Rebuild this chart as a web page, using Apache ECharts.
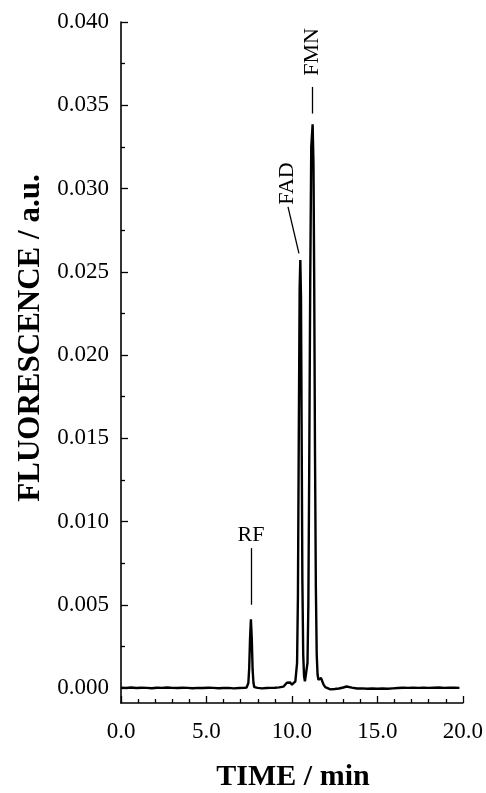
<!DOCTYPE html>
<html>
<head>
<meta charset="utf-8">
<script src="https://cdn.jsdelivr.net/npm/echarts@6/dist/echarts.min.js"></script>
<style>html,body{margin:0;padding:0;background:#fff}#c{width:486px;height:793px}</style>
</head>
<body>
<div id="c"></div>
<script>
// ---- data (time in min, fluorescence in a.u.) ----
const times = [
  0.0,0.3,0.6,0.9,1.2,1.5,1.8,2.1,2.4,2.7,3.0,3.3,3.6,3.9,4.2,4.5,4.8,5.1,5.4,5.7,6.0,6.3,6.6,6.9,7.2,
  7.30,7.35,7.40,7.45,7.50,7.55,7.60,7.65,7.70,7.75,7.80,7.85,7.90,
  8.0,8.25,8.5,8.75,9.0,9.25,9.5,9.6,9.7,9.8,9.9,10.0,10.1,10.2,
  10.30,10.35,10.40,10.45,10.49,10.53,10.57,10.61,10.66,10.71,10.76,10.81,10.86,10.91,10.96,
  11.01,11.07,11.13,11.21,11.26,11.30,11.35,11.40,11.45,11.50,11.55,11.60,11.65,11.70,11.75,11.80,11.85,11.95,
  12.0,12.25,12.5,12.75,13.0,13.2,13.5,13.8,14.1,14.4,14.7,15.0,15.3,15.6,15.9,16.2,16.5,16.8,17.1,17.4,17.7,
  18.0,18.3,18.6,18.9,19.2,19.5,19.8
];
const fluorescence = [
  0.00002,0.00001,0.00003,0.00000,0.00002,0.00001,-0.00001,0.00002,0.00001,0.00003,0.00001,0.00000,0.00002,0.00001,-0.00001,0.00001,0.00000,0.00002,0.00001,-0.00001,0.00000,0.00001,-0.00002,0.00000,0.00001,
  0.00002,0.00003,0.00008,0.00030,0.00120,0.00300,0.00412,0.00300,0.00110,0.00030,0.00005,0.00000,-0.00002,
  0.00001,-0.00002,0.00000,0.00001,0.00002,0.00004,0.00008,0.00015,0.00032,0.00022,0.00033,0.00020,0.00018,0.00040,
  0.00150,0.00550,0.01500,0.02400,0.02570,0.02350,0.01500,0.00650,0.00200,0.00070,0.00040,0.00030,0.00050,0.00150,0.00500,
  0.01300,0.02450,0.03250,0.03385,0.03150,0.02500,0.01400,0.00600,0.00200,0.00080,0.00050,0.00040,0.00045,0.00060,0.00070,0.00060,0.00020,0.00005,-0.00003,
  -0.00008,-0.00006,-0.00003,0.00003,0.00009,0.00002,-0.00003,-0.00002,-0.00004,-0.00003,-0.00004,-0.00003,-0.00004,-0.00002,0.00000,0.00002,0.00001,0.00002,0.00001,0.00002,0.00001,
  0.00002,0.00003,0.00001,0.00002,0.00002,0.00001,0.00002
];
const xTickLabels = [0, 5, 10, 15, 20];
const xMinorTicks = [1, 2, 3, 4, 6, 7, 8, 9, 11, 12, 13, 14, 16, 17, 18, 19];
const yTickLabels = [0, 0.005, 0.010, 0.015, 0.020, 0.025, 0.030, 0.035, 0.040];
const yMinorTicks = [0.0025, 0.0075, 0.0125, 0.0175, 0.0225, 0.0275, 0.0325, 0.0375];
// annotations: peak names, label anchor [time, value], leader line from/to [time, value]
const peakNames = ['RF', 'FAD', 'FMN'];
const peakLabelPos = [[7.6, 0.0092], [9.71, 0.0303], [11.17, 0.0382]];
const peakLabelRotate = [0, 90, 90];
const leaderFrom = [[7.6, 0.0084], [9.77, 0.0289], [11.2, 0.0361]];
const leaderTo = [[7.6, 0.0050], [10.41, 0.0261], [11.2, 0.0345]];

const serif = '"Liberation Serif", "Times New Roman", serif';
const chart = echarts.init(document.getElementById('c'), null, {renderer: 'canvas'});
const axisLineStyle = {color: '#000', width: 1.6};
const tickStyle = {color: '#000', width: 1.3};
const option = {
  animation: false,
  backgroundColor: '#fff',
  grid: {left: 121, top: 22, right: 23, bottom: 90, containLabel: false},
  xAxis: [{
    type: 'value', min: 0, max: 20,
    axisLine: {show: true, onZero: false, lineStyle: axisLineStyle},
    axisTick: {show: true, inside: true, length: 7, customValues: xTickLabels, lineStyle: tickStyle},
    splitLine: {show: false},
    axisLabel: {
      color: '#000', fontFamily: serif, fontSize: 23, margin: 17,
      customValues: xTickLabels,
      formatter: v => v.toFixed(1)
    }
  }, {
    type: 'value', min: 0, max: 20, position: 'bottom',
    axisLine: {show: false, onZero: false},
    axisTick: {show: true, inside: true, length: 4, customValues: xMinorTicks, lineStyle: tickStyle},
    axisLabel: {show: false},
    splitLine: {show: false}
  }],
  yAxis: [{
    type: 'value', min: -0.0009, max: 0.04,
    axisLine: {show: true, onZero: false, lineStyle: axisLineStyle},
    axisTick: {show: true, inside: true, length: 7, customValues: yTickLabels, lineStyle: tickStyle},
    splitLine: {show: false},
    axisLabel: {
      color: '#000', fontFamily: serif, fontSize: 23, margin: 12,
      customValues: yTickLabels,
      formatter: v => v.toFixed(3)
    }
  }, {
    type: 'value', min: -0.0009, max: 0.04, position: 'left',
    axisLine: {show: false, onZero: false},
    axisTick: {show: true, inside: true, length: 4, customValues: yMinorTicks, lineStyle: tickStyle},
    axisLabel: {show: false},
    splitLine: {show: false}
  }],
  graphic: [{
    type: 'text',
    x: 293, y: 777,
    style: {text: 'TIME / min', font: 'bold 30px ' + serif, fill: '#000', align: 'center', verticalAlign: 'middle'}
  }, {
    type: 'text',
    x: 31, y: 338, rotation: Math.PI / 2,
    style: {text: 'FLUORESCENCE / a.u.', font: 'bold 31px ' + serif, fill: '#000', align: 'center', verticalAlign: 'middle'}
  }],
  series: [{
    type: 'line',
    data: times.map((t, i) => [t, fluorescence[i]]),
    showSymbol: false,
    lineStyle: {color: '#000', width: 2.4},
    z: 3,
    markLine: {
      silent: true, symbol: 'none', label: {show: false},
      lineStyle: {color: '#000', width: 1.3, type: 'solid'},
      data: peakNames.map((n, i) => [{coord: leaderFrom[i]}, {coord: leaderTo[i]}])
    }
  }, {
    type: 'scatter',
    symbolSize: 0,
    itemStyle: {opacity: 1, color: '#000'},
    data: peakNames.map((n, i) => ({name: n, value: peakLabelPos[i],
      label: {rotate: peakLabelRotate[i]}})),
    label: {show: true, position: 'inside', formatter: p => p.name, color: '#000', opacity: 1,
      textBorderWidth: 0, fontFamily: serif, fontSize: 22},
    z: 4
  }]
};
chart.setOption(option);
</script>
</body>
</html>
